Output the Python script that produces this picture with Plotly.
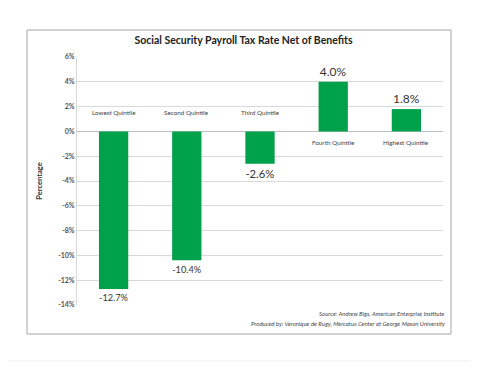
import plotly.graph_objects as go

categories = ["Lowest Quintile", "Second Quintile", "Third Quintile", "Fourth Quintile", "Highest Quintile"]
values = [-12.7, -10.4, -2.6, 4.0, 1.8]
tick_vals = [6, 4, 2, 0, -2, -4, -6, -8, -10, -12, -14]
tick_text = [f"<b>{v}%</b>" for v in tick_vals]

FONT = "Lato, Open Sans, sans-serif"

fig = go.Figure()
fig.add_trace(go.Bar(
    x=categories, y=values,
    marker=dict(color="#00A14B", line=dict(width=0)),
    text=[f"{v:.1f}%" for v in values],
    textposition="outside",
    textfont=dict(family=FONT, size=12, color="#333333"),
    cliponaxis=False,
))

for c, v in zip(categories, values):
    fig.add_annotation(
        x=c, y=0, text=c, showarrow=False,
        yshift=19 if v < 0 else -11,
        font=dict(family=FONT, size=6.3, color="#444444"),
    )

fig.update_layout(
    width=471, height=357,
    margin=dict(l=69, r=36, t=49, b=60),
    paper_bgcolor="white", plot_bgcolor="white",
    showlegend=False,
    bargap=0.6,
    title=dict(text="<b>Social Security Payroll Tax Rate Net of Benefits</b>",
               x=0.5, xanchor="center", y=1 - 32/357, yanchor="middle",
               font=dict(family=FONT, size=10.5, color="#222222")),
    xaxis=dict(showticklabels=False, showgrid=False, zeroline=False, showline=False, ticks=""),
    yaxis=dict(range=[-14, 6], tickvals=tick_vals, ticktext=tick_text,
               showgrid=True, gridcolor="#d9d9d9", gridwidth=1,
               zeroline=True, zerolinecolor="#bfbfbf", zerolinewidth=1,
               showline=True, linecolor="#d9d9d9", linewidth=1,
               ticks="", ticklen=0,
               tickfont=dict(family=FONT, size=7, color="#555555"),
               title=dict(text="<b>Percentage</b>", standoff=14,
                          font=dict(family=FONT, size=7.5, color="#333333"))),
)

# outer chart box
fig.add_shape(type="rect", xref="paper", yref="paper",
              x0=(27-77)/366, x1=(451-77)/366, y0=(305-334)/248, y1=(305-30)/248,
              line=dict(color="#a6a6a6", width=1), fillcolor="rgba(0,0,0,0)", layer="below")
# faint page line at bottom
fig.add_shape(type="line", xref="paper", yref="paper",
              x0=-77/366, x1=(479-77)/366, y0=(305-361)/248, y1=(305-361)/248,
              line=dict(color="#eeeeee", width=1))

fig.add_annotation(xref="paper", yref="paper", x=1.012, y=(305-313)/248,
                   xanchor="right", yanchor="middle", showarrow=False,
                   text="<i>Source: Andrew Bigs, American Enterprise Institute</i>",
                   font=dict(family=FONT, size=6, color="#444444"))
fig.add_annotation(xref="paper", yref="paper", x=1.012, y=(305-323)/248,
                   xanchor="right", yanchor="middle", showarrow=False,
                   text="<i>Produced by: Veronique de Rugy, Mercatus Center at George Mason University</i>",
                   font=dict(family=FONT, size=6, color="#444444"))

fig.write_html("out.html")
